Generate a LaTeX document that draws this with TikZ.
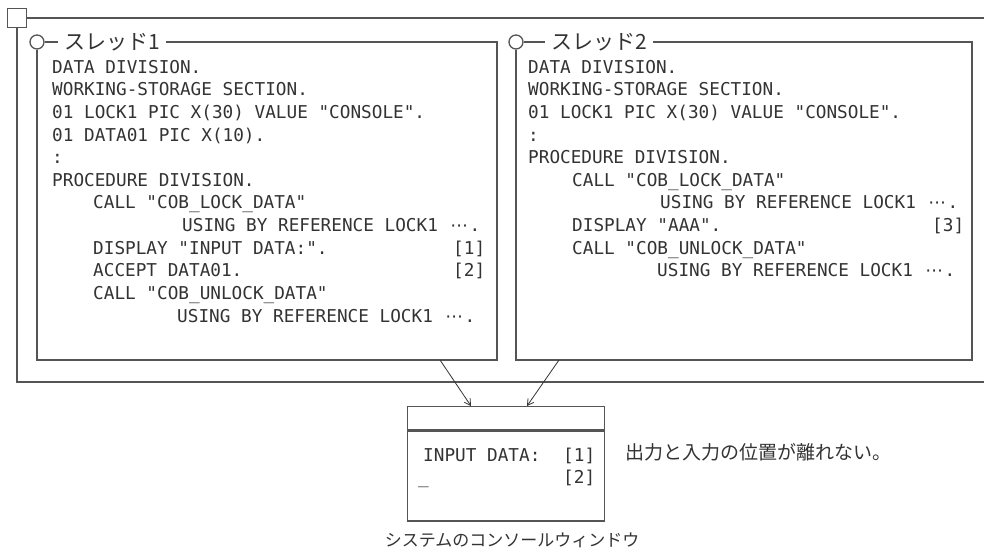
\documentclass[tikz,border=0pt]{standalone}
\usepackage{fontspec}
\setmonofont{DejaVu Sans Mono}
\newfontfamily\jpfont{Noto Sans CJK JP}
\newfontfamily\symfont{DejaVu Sans}
\usetikzlibrary{arrows.meta}
\definecolor{ink}{HTML}{333333}
\definecolor{lin}{HTML}{555555}
\newcommand{\cdx}{\makebox[21pt][c]{\symfont ⋯}}
\begin{document}
\begin{tikzpicture}[x=1pt,y=-1pt,
  frame/.style={draw=lin, line width=1.3pt, line join=miter},
  code/.style={font=\ttfamily\fontsize{17.7}{22}\selectfont, text=ink, anchor=base west, inner sep=0pt},
  jplabel/.style={font=\jpfont\fontsize{21}{21}\selectfont, text=ink, anchor=west, inner ysep=0pt},
  jptext/.style={font=\jpfont\fontsize{#1}{#1}\selectfont, text=ink, inner sep=0pt},
  arr/.style={draw=ink, line width=0.8pt, -{Straight Barb[length=6pt,width=7pt]}}]
\useasboundingbox[fill=white] (0,0) rectangle (984,553);

% outer frame
\node[frame, minimum size=19pt, inner sep=0pt] (osq) at (17,18) {};
\coordinate (oTR) at (990,18);
\coordinate (oBL) at (17,382);
\coordinate (oBR) at (990,382);
\draw[frame] (osq.east) -- (oTR);
\draw[frame] (osq.south) -- (oBL) -- (oBR);

% thread 1 box
\node[frame, circle, minimum size=14pt, inner sep=0pt] (c1) at (37,42) {};
\node[jplabel, inner xsep=6pt] (lab1) at (58,42) {スレッド1};
\coordinate (b1TR) at (497,42);
\coordinate (b1BR) at (497,360);
\coordinate (b1BL) at (37,360);
\draw[frame] (c1.east) -- (lab1.west);
\draw[frame] (lab1.east) -- (b1TR) -- (b1BR) -- (b1BL) -- (c1.south);

% thread 2 box
\node[frame, circle, minimum size=14pt, inner sep=0pt] (c2) at (516,42) {};
\node[jplabel, inner xsep=6pt] (lab2) at (545,42) {スレッド2};
\coordinate (b2TR) at (972,42);
\coordinate (b2BR) at (972,360);
\coordinate (b2BL) at (516,360);
\draw[frame] (c2.east) -- (lab2.west);
\draw[frame] (lab2.east) -- (b2TR) -- (b2BR) -- (b2BL) -- (c2.south);

% thread 1 code
\node[code] (t1a) at (52,73.4) {DATA DIVISION.};
\node[code] (t1b) at (52,96) {WORKING-STORAGE SECTION.};
\node[code] (t1c) at (52,118.6) {01 LOCK1 PIC X(30) VALUE "CONSOLE".};
\node[code] (t1d) at (52,141.2) {01 DATA01 PIC X(10).};
\node[code] (t1e) at (52,163.8) {:};
\node[code] (t1f) at (52,186.4) {PROCEDURE DIVISION.};
\node[code] (t1g) at (93,209) {CALL "COB\_LOCK\_DATA"};
\node[code] (t1h) at (182,231.6) {USING BY REFERENCE LOCK1 \cdx.};
\node[code] (t1i) at (93,254.2) {DISPLAY "INPUT DATA:".};
\node[code] (t1i2) at (453,254.2) {[1]};
\node[code] (t1j) at (93,276.8) {ACCEPT DATA01.};
\node[code] (t1j2) at (453,276.8) {[2]};
\node[code] (t1k) at (93,299.4) {CALL "COB\_UNLOCK\_DATA"};
\node[code] (t1l) at (177,322) {USING BY REFERENCE LOCK1 \cdx.};

% thread 2 code
\node[code] (t2a) at (528,73.4) {DATA DIVISION.};
\node[code] (t2b) at (528,96) {WORKING-STORAGE SECTION.};
\node[code] (t2c) at (528,118.6) {01 LOCK1 PIC X(30) VALUE "CONSOLE".};
\node[code] (t2d) at (528,141.2) {:};
\node[code] (t2e) at (528,163.8) {PROCEDURE DIVISION.};
\node[code] (t2f) at (572,186.4) {CALL "COB\_LOCK\_DATA"};
\node[code] (t2g) at (660,209) {USING BY REFERENCE LOCK1 \cdx.};
\node[code] (t2h) at (572,231.6) {DISPLAY "AAA".};
\node[code] (t2h2) at (932,231.6) {[3]};
\node[code] (t2i) at (572,254.2) {CALL "COB\_UNLOCK\_DATA"};
\node[code] (t2j) at (657,276.8) {USING BY REFERENCE LOCK1 \cdx.};

% console window
\node[frame, minimum width=197pt, minimum height=23pt, inner sep=0pt, anchor=north west] (cbar) at (407,406) {};
\node[frame, minimum width=197pt, minimum height=90pt, inner sep=0pt, anchor=north west] (cbody) at (cbar.south west) {};
\node[code] (o1) at (423,461.4) {INPUT DATA:};
\node[code] (o1n) at (563,461.4) {[1]};
\node[code] (o2n) at (563,483.4) {[2]};
\node[code] (cur) at (418,483.4) {\_};

% arrows
\coordinate (a1s) at (440,360);
\coordinate (a1e) at (471,406);
\coordinate (a2s) at (559,360);
\coordinate (a2e) at (527,406);
\draw[arr] (a1s) -- (a1e);
\draw[arr] (a2s) -- (a2e);

% texts
\node[jptext=19, anchor=west] (note) at (625,452) {出力と入力の位置が離れない。};
\node[jptext=17] (cap) at (512,540) {システムのコンソールウィンドウ};
\end{tikzpicture}
\end{document}
